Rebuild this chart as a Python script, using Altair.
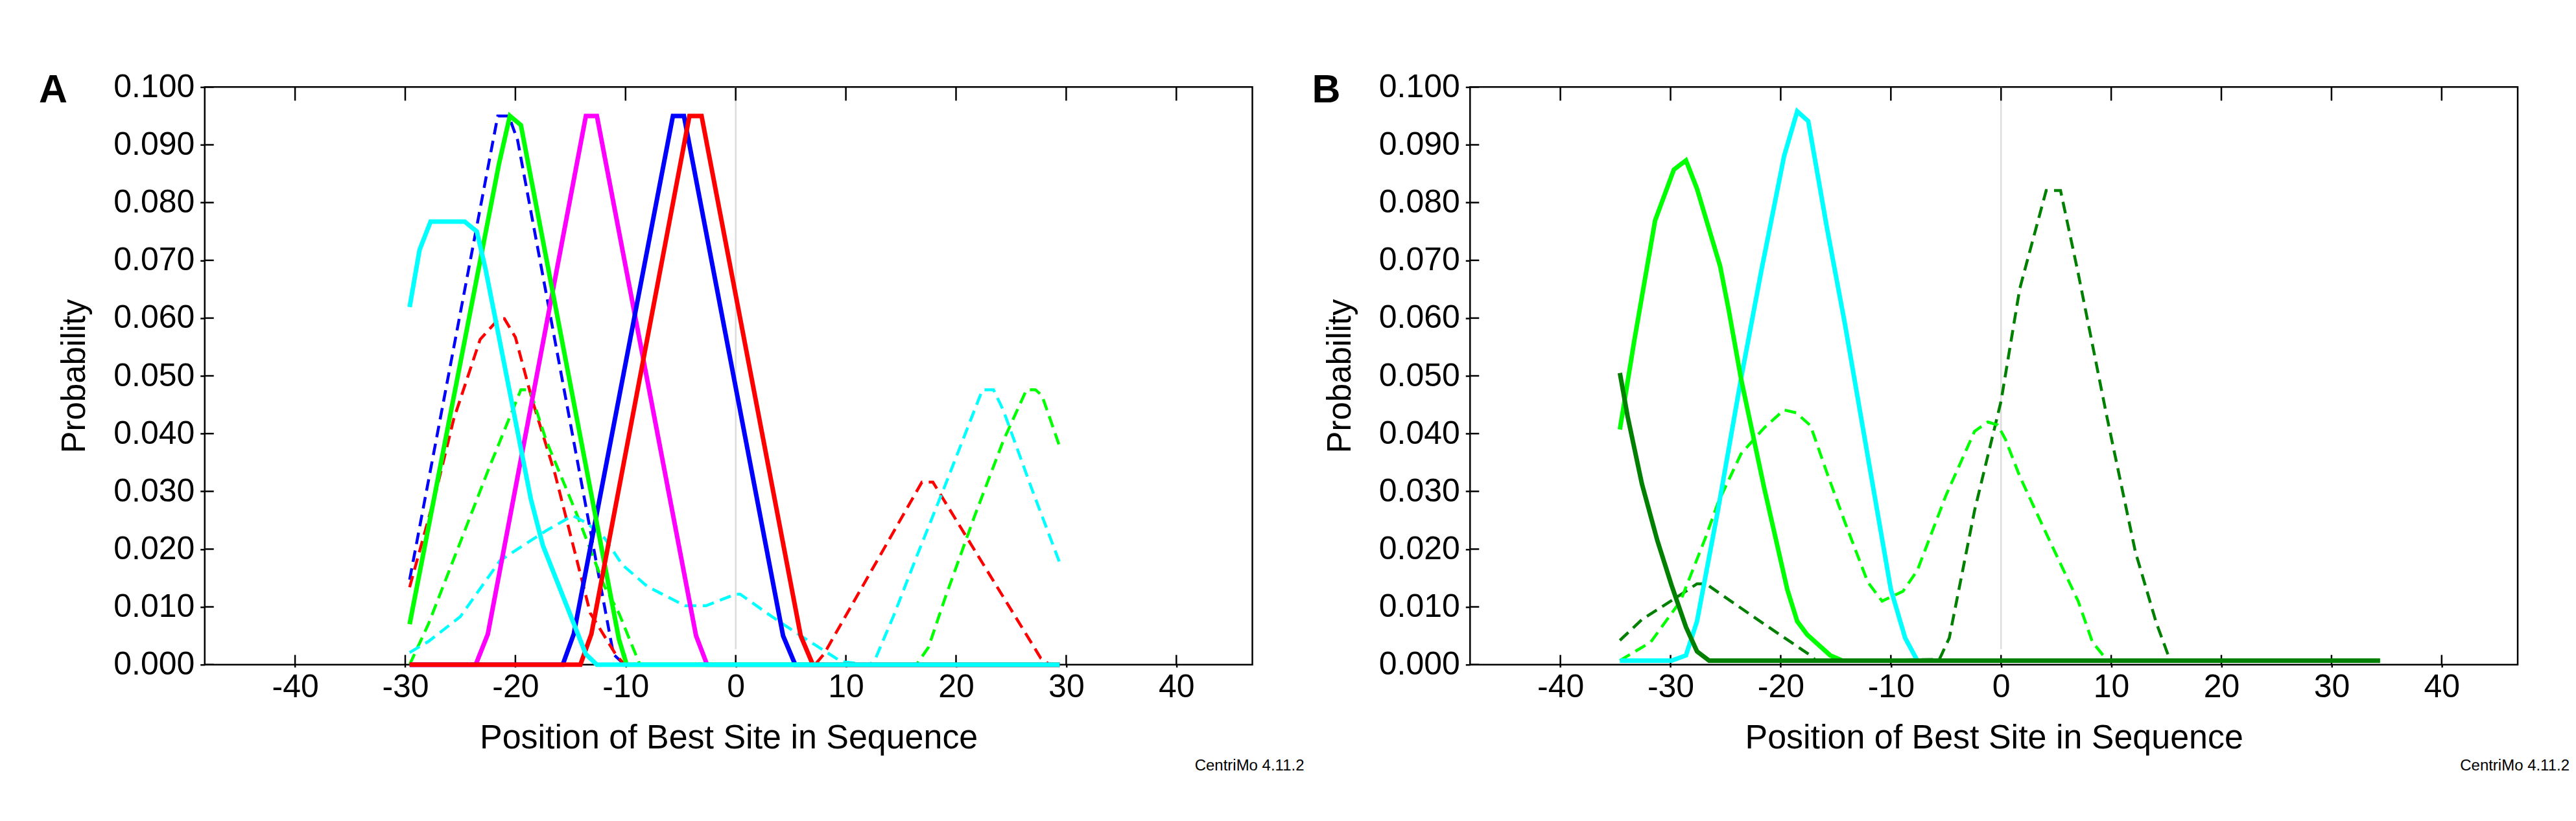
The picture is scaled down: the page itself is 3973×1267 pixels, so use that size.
import pandas as pd
import altair as alt

FONT = "Liberation Sans"
W, H = 1617, 892

x_ticks = [-40, -30, -20, -10, 0, 10, 20, 30, 40]
y_ticks = [0.0, 0.01, 0.02, 0.03, 0.04, 0.05, 0.06, 0.07, 0.08, 0.09, 0.1]

# ---- panel A ----
a_blue_dash_x = [-29.6, -21.6, -20.6, -19.8, -11.1, -10.1, 29.4]
a_blue_dash_y = [0.0147, 0.095, 0.095, 0.0908, 0.0018, 0.0, 0.0]

a_red_dash_x = [-29.6, -27.2, -25.6, -23.2, -21.5, -21.0, -20.0, -18.5, -16.4, -13.2, -10.9, -10.1,
                7.2, 8.0, 16.9, 17.9, 27.7, 28.5, 29.4]
a_red_dash_y = [0.0134, 0.030, 0.0425, 0.0563, 0.0599, 0.0599, 0.0567, 0.046, 0.033, 0.0089, 0.0018, 0.0,
                0.0, 0.0018, 0.0316, 0.0316, 0.0011, 0.0, 0.0]

a_green_dash_x = [-29.6, -27.9, -25.0, -22.4, -19.5, -18.7, -17.2, -14.5, -11.9, -10.6, -8.7,
                  16.4, 17.5, 19.0, 21.7, 24.3, 26.4, 27.2, 27.8, 29.4]
a_green_dash_y = [0.0, 0.007, 0.0212, 0.034, 0.0476, 0.0476, 0.0388, 0.0264, 0.0135, 0.0089, 0.0,
                  0.0, 0.003, 0.0115, 0.0258, 0.0388, 0.0476, 0.0476, 0.0466, 0.0378]

a_cyan_dash_x = [-29.6, -27.9, -25.0, -21.4, -19.8, -17.2, -14.8, -13.5, -11.9, -10.3, -8.0, -4.6, -2.7,
                 0.0, 0.4, 3.3, 5.9, 9.6, 12.2, 12.7, 14.3, 16.4, 19.0, 22.4, 23.4, 24.3, 26.9, 29.4]
a_cyan_dash_y = [0.0021, 0.004, 0.0083, 0.018, 0.020, 0.0232, 0.0258, 0.0245, 0.0219, 0.0173, 0.0135, 0.0102, 0.0102,
                 0.0122, 0.0122, 0.0083, 0.005, 0.0005, 0.0, 0.0011, 0.0083, 0.0186, 0.031, 0.0476, 0.0476, 0.044, 0.0303, 0.0177]

a_magenta_x = [-29.6, -23.6, -22.5, -13.6, -12.6, -3.6, -2.6, 29.4]
a_magenta_y = [0.0, 0.0, 0.0053, 0.095, 0.095, 0.005, 0.0, 0.0]

a_blue_x = [-29.6, -15.7, -14.7, -5.7, -4.7, 4.3, 5.4, 29.4]
a_blue_y = [0.0, 0.0, 0.0053, 0.095, 0.095, 0.005, 0.0, 0.0]

a_green_x = [-29.6, -21.5, -20.5, -19.5, -10.6, -9.9, 29.4]
a_green_y = [0.007, 0.0866, 0.095, 0.0934, 0.0044, 0.0, 0.0]

a_red_x = [-29.6, -14.1, -13.1, -4.2, -3.1, 5.9, 7.0, 29.4]
a_red_y = [0.0, 0.0, 0.0053, 0.095, 0.095, 0.005, 0.0, 0.0]

a_cyan_x = [-29.6, -28.7, -27.7, -24.6, -23.5, -22.7, -18.6, -17.5, -13.6, -12.6, 29.4]
a_cyan_y = [0.0619, 0.0718, 0.0767, 0.0767, 0.075, 0.0684, 0.0287, 0.0206, 0.0018, 0.0, 0.0]

# ---- panel B ----
b_dkgreen_dash_x = [-34.6, -32.6, -28.6, -27.6, -26.8, -22.1, -17.3, -16.8, -5.6, -4.7, -2.4, 0.0,
                    1.7, 4.1, 5.4, 7.0, 9.6, 12.2, 14.1, 15.3, 15.5, 34.4]
b_dkgreen_dash_y = [0.0042, 0.0078, 0.0127, 0.014, 0.014, 0.0078, 0.0016, 0.0007, 0.0009, 0.0046, 0.0267, 0.0456,
                    0.0651, 0.0821, 0.0821, 0.0678, 0.043, 0.0195, 0.0072, 0.001, 0.0007, 0.0007]

b_green_dash_x = [-34.6, -31.8, -29.1, -26.8, -25.7, -23.6, -21.5, -19.7, -18.6, -17.3, -15.8, -14.2, -12.1,
                  -10.8, -8.9, -7.6, -5.0, -2.4, -1.2, -0.3, 0.4, 1.7, 4.4, 7.0, 8.3, 9.4, 9.9, 34.4]
b_green_dash_y = [0.0007, 0.0039, 0.011, 0.0221, 0.028, 0.0365, 0.041, 0.0441, 0.0436, 0.0414, 0.0332, 0.0248, 0.0143,
                  0.011, 0.0127, 0.0163, 0.0293, 0.0404, 0.042, 0.0415, 0.039, 0.0326, 0.0215, 0.011, 0.0039, 0.0013, 0.0007, 0.0007]

b_cyan_x = [-34.6, -29.9, -28.6, -27.6, -25.7, -23.6, -21.8, -19.7, -18.5, -17.5, -15.8, -14.2, -11.6,
            -10.0, -8.7, -7.6, 34.4]
b_cyan_y = [0.0007, 0.0007, 0.0016, 0.0075, 0.0267, 0.0495, 0.0678, 0.088, 0.0958, 0.0941, 0.0756, 0.0593, 0.0306,
            0.013, 0.0046, 0.0007, 0.0007]

b_green_x = [-34.6, -33.3, -31.4, -29.7, -28.6, -27.6, -25.5, -24.7, -23.6, -21.5, -19.4, -18.5, -17.6,
             -15.5, -14.4, 34.4]
b_green_y = [0.0407, 0.056, 0.0769, 0.0857, 0.0873, 0.0824, 0.069, 0.0612, 0.0495, 0.0306, 0.013, 0.0075, 0.0052,
             0.0016, 0.0007, 0.0007]

b_dkgreen_x = [-34.6, -33.9, -32.6, -31.2, -29.9, -28.6, -27.6, -26.5, 34.4]
b_dkgreen_y = [0.0505, 0.043, 0.0313, 0.0215, 0.0137, 0.0065, 0.0023, 0.0007, 0.0007]

# (x, y, colour, dashed) in drawing order
series_a = [
    (a_blue_dash_x, a_blue_dash_y, "#0000ff", True),
    (a_red_dash_x, a_red_dash_y, "#ff0000", True),
    (a_green_dash_x, a_green_dash_y, "#00ff00", True),
    (a_cyan_dash_x, a_cyan_dash_y, "#00ffff", True),
    (a_magenta_x, a_magenta_y, "#ff00ff", False),
    (a_blue_x, a_blue_y, "#0000ff", False),
    (a_green_x, a_green_y, "#00ff00", False),
    (a_red_x, a_red_y, "#ff0000", False),
    (a_cyan_x, a_cyan_y, "#00ffff", False),
]
series_b = [
    (b_dkgreen_dash_x, b_dkgreen_dash_y, "#008000", True),
    (b_green_dash_x, b_green_dash_y, "#00ff00", True),
    (b_cyan_x, b_cyan_y, "#00ffff", False),
    (b_green_x, b_green_y, "#00ff00", False),
    (b_dkgreen_x, b_dkgreen_y, "#008000", False),
]

x_scale = alt.Scale(domain=[-48.2, 46.9], nice=False, zero=False)
y_scale = alt.Scale(domain=[0, 0.1], nice=False)

x_axis = alt.Axis(values=x_ticks, labelExpr="'' + datum.value", title="Position of Best Site in Sequence",
                  grid=False, domain=False, tickSize=4, tickWidth=2.5, tickColor="black",
                  labelFont=FONT, labelFontSize=50, labelColor="black", labelPadding=6, labelFlush=False,
                  titleFont=FONT, titleFontSize=52, titleFontWeight="normal", titleColor="black", titlePadding=28)
y_axis = alt.Axis(values=y_ticks, format=".3f", title="Probability",
                  grid=False, domain=False, tickSize=7, tickWidth=2.5, tickColor="black",
                  labelFont=FONT, labelFontSize=50, labelColor="black", labelPadding=9, labelFlush=False,
                  titleFont=FONT, titleFontSize=51, titleFontWeight="normal", titleColor="black", titlePadding=33)


def X(field):
    return alt.X(field, type="quantitative", scale=x_scale, axis=x_axis)


def Y(field):
    return alt.Y(field, type="quantitative", scale=y_scale, axis=y_axis)


def panel(series, letter, letter_dx):
    xt = pd.DataFrame({"t": x_ticks})
    yt = pd.DataFrame({"t": y_ticks})
    layers = [
        alt.Chart(pd.DataFrame({"x": [0]})).mark_rule(color="#dcdcdc", strokeWidth=2.5).encode(
            x=X("x"), y=alt.value(0), y2=alt.value(H - 24)),
        alt.Chart(xt).mark_rule(color="black", strokeWidth=2.5).encode(
            x=X("t"), y=alt.value(0), y2=alt.value(21)),
        alt.Chart(xt).mark_rule(color="black", strokeWidth=2.5).encode(
            x=X("t"), y=alt.value(H - 15), y2=alt.value(H)),
        alt.Chart(yt).mark_rule(color="black", strokeWidth=2.5).encode(
            y=Y("t"), x=alt.value(0), x2=alt.value(14)),
    ]
    for xs, ys, col, dashed in series:
        df = pd.DataFrame({"x": xs, "y": ys})
        if dashed:
            m = alt.Chart(df).mark_line(color=col, strokeWidth=4.5, strokeDash=[18, 10])
        else:
            m = alt.Chart(df).mark_line(color=col, strokeWidth=7)
        layers.append(m.encode(x=X("x"), y=Y("y")))
    layers.append(
        alt.Chart(pd.DataFrame({"t": [letter]})).mark_text(
            align="left", baseline="alphabetic", fontSize=61, fontWeight="bold", font=FONT, color="black"
        ).encode(text="t:N", x=alt.value(letter_dx), y=alt.value(24)))
    layers.append(
        alt.Chart(pd.DataFrame({"t": ["CentriMo 4.11.2"]})).mark_text(
            align="right", baseline="alphabetic", fontSize=24, font=FONT, color="black"
        ).encode(text="t:N", x=alt.value(W + 80), y=alt.value(H + 163)))
    return alt.layer(*layers).properties(width=W, height=H)


chart = alt.hconcat(
    panel(series_a, "A", -256),
    panel(series_b, "B", -244),
    spacing=336, bounds="flush",
).properties(
    padding={"left": 50, "top": 99, "right": 0, "bottom": 0},
    background="white",
).configure_view(stroke="black", strokeWidth=2.5)

chart.save("out.html", embed_options={"renderer": "svg", "actions": False})
